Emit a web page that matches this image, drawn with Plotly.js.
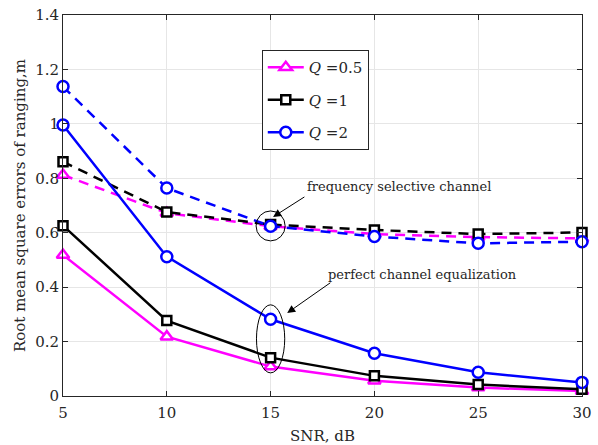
<!DOCTYPE html>
<html>
<head>
<meta charset="utf-8">
<script src="https://cdn.plot.ly/plotly-3.0.1.min.js"></script>
<style>html,body{margin:0;padding:0;background:#fff}#chart{width:598px;height:445px}</style>
</head>
<body>
<div id="chart"></div>
<script>
// Data
const snr = [5, 10, 15, 20, 25, 30];
const xTicks = [5, 10, 15, 20, 25, 30];
const yTicks = [0, 0.2, 0.4, 0.6, 0.8, 1, 1.2, 1.4];
const yTickLabels = ['0', '0.2', '0.4', '0.6', '0.8', '1', '1.2', '1.4'];

// perfect channel equalization (solid)
const perfQ05 = [0.518, 0.218, 0.108, 0.056, 0.031, 0.018];
const perfQ1  = [0.626, 0.277, 0.141, 0.074, 0.042, 0.025];
const perfQ2  = [0.996, 0.512, 0.282, 0.157, 0.087, 0.050];

// frequency selective channel (dashed)
const freqQ05 = [0.812, 0.672, 0.624, 0.595, 0.584, 0.579];
const freqQ1  = [0.861, 0.676, 0.630, 0.610, 0.595, 0.601];
const freqQ2  = [1.137, 0.764, 0.624, 0.586, 0.561, 0.567];

const legendNames = ['<i>Q</i> =0.5', '<i>Q</i> =1', '<i>Q</i> =2'];
const colors = ['#ff00ff', '#000000', '#0000ff'];
const symbols = ['triangle-up', 'square', 'circle'];
const sizes = [11, 9, 11];

const perf = [perfQ05, perfQ1, perfQ2];
const freq = [freqQ05, freqQ1, freqQ2];

const traces = [];
for (let i = 0; i < 3; i++) {
  traces.push({
    x: snr, y: freq[i], type: 'scatter', mode: 'lines+markers',
    showlegend: false, cliponaxis: false,
    line: {color: colors[i], width: 2.5, dash: '10px,7px'},
    marker: {symbol: symbols[i], size: sizes[i], color: '#ffffff', line: {color: colors[i], width: 2.5}}
  });
}
for (let i = 0; i < 3; i++) {
  traces.push({
    x: snr, y: perf[i], type: 'scatter', mode: 'lines+markers',
    name: legendNames[i], legendgroup: 'g' + i, cliponaxis: false,
    line: {color: colors[i], width: 2.5},
    marker: {symbol: symbols[i], size: sizes[i], color: '#ffffff', line: {color: colors[i], width: 2.5}}
  });
}

const fontFam = 'DejaVu Serif';
const axisCommon = {
  showline: true, linecolor: '#262626', linewidth: 1, mirror: 'ticks',
  ticks: 'inside', ticklen: 5, tickwidth: 1, tickcolor: '#262626',
  showgrid: true, gridcolor: '#e6e6e6', gridwidth: 1, zeroline: false,
  tickfont: {family: fontFam, size: 15, color: '#262626'}
};

const layout = {
  width: 598, height: 445,
  margin: {l: 63, r: 16, t: 15, b: 49},
  paper_bgcolor: '#ffffff', plot_bgcolor: '#ffffff',
  font: {family: fontFam, color: '#262626'},
  xaxis: Object.assign({}, axisCommon, {
    range: [5, 30], tickvals: xTicks, ticktext: xTicks.map(String), ticklabelstandoff: 3,
    title: {text: 'SNR, dB', font: {family: fontFam, size: 15, color: '#262626'}, standoff: 9}
  }),
  yaxis: Object.assign({}, axisCommon, {
    range: [0, 1.4], tickvals: yTicks, ticktext: yTickLabels,
    title: {text: 'Root mean square errors of ranging,m', font: {family: fontFam, size: 15, color: '#262626'}, standoff: 5}
  }),
  legend: {
    x: 0.383, y: 0.908, xanchor: 'left', yanchor: 'top',
    bgcolor: '#ffffff', bordercolor: '#262626', borderwidth: 1,
    font: {family: fontFam, size: 15, color: '#262626'},
    tracegroupgap: 10, itemwidth: 36
  },
  shapes: [
    {type: 'circle', xref: 'x', yref: 'y', x0: 14.3, x1: 15.7, y0: 0.57, y1: 0.68, line: {color: '#000', width: 1}},
    {type: 'circle', xref: 'x', yref: 'y', x0: 14.32, x1: 15.68, y0: 0.085, y1: 0.335, line: {color: '#000', width: 1}}
  ],
  annotations: [
    {x: 21.2, y: 0.768, xref: 'x', yref: 'y', text: 'frequency selective channel', showarrow: false,
     font: {family: fontFam, size: 13, color: '#262626'}},
    {x: 15.12, y: 0.658, ax: 16.7, ay: 0.735, xref: 'x', yref: 'y', axref: 'x', ayref: 'y', text: '',
     showarrow: true, arrowhead: 2, arrowsize: 1.6, arrowwidth: 1, arrowcolor: '#000'},
    {x: 22.3, y: 0.448, xref: 'x', yref: 'y', text: 'perfect channel equalization', showarrow: false,
     font: {family: fontFam, size: 13, color: '#262626'}},
    {x: 15.8, y: 0.305, ax: 17.95, ay: 0.42, xref: 'x', yref: 'y', axref: 'x', ayref: 'y', text: '',
     showarrow: true, arrowhead: 2, arrowsize: 1.6, arrowwidth: 1, arrowcolor: '#000'}
  ]
};

Plotly.newPlot('chart', traces, layout, {displayModeBar: false, staticPlot: true});
</script>
</body>
</html>
